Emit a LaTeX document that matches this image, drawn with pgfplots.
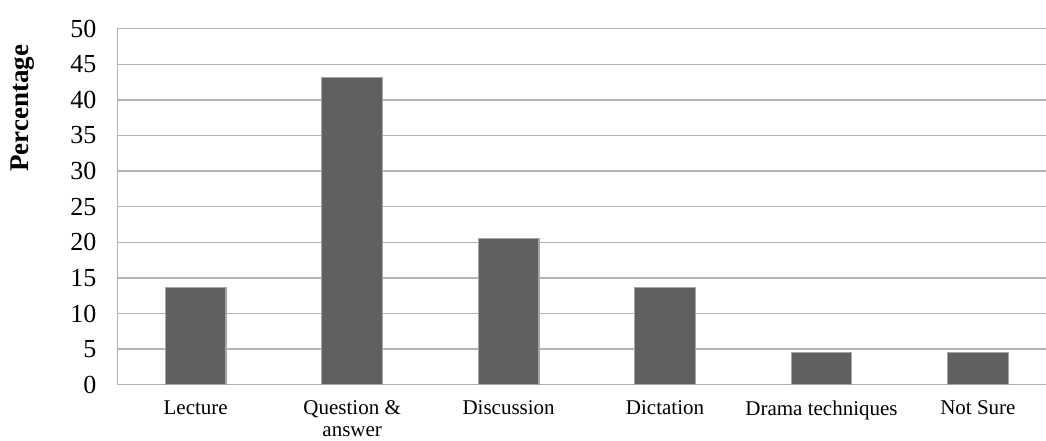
\documentclass[border=0pt]{standalone}
\usepackage{pgfplots}
\pgfplotsset{compat=1.18}
\usepackage{fontspec}
\setmainfont{Liberation Serif}
\definecolor{barfill}{HTML}{606060}
\definecolor{baredge}{HTML}{A6A6A6}
\definecolor{gridc}{HTML}{B3B3B3}
\begin{document}
\begin{tikzpicture}
\begin{axis}[
  scale only axis,
  width=464.25pt, height=178pt,
  xmin=-0.5, xmax=5.435,
  ymin=0, ymax=50,
  ytick={0,5,...,50},
  xtick=data,
  xticklabels={Lecture,{Question \&\\answer},Discussion,Dictation,Drama techniques,Not Sure},
  axis x line*=bottom,
  axis y line*=left,
  axis line style={gridc, line width=0.75pt},
  ymajorgrids,
  grid style={gridc, line width=0.75pt},
  major tick length=0pt,
  tick label style={/pgf/number format/assume math mode=true},
  yticklabel style={font=\fontsize{13}{13.5}\selectfont, xshift=-7pt},
  xticklabel style={font=\fontsize{10.5}{10.8}\selectfont, align=center, yshift=-4.5pt},
  ylabel={\textbf{Percentage}},
  ylabel style={font=\fontsize{13.5}{14}\selectfont, at={(axis description cs:-0.1018,0.777)}, anchor=center, rotate=0},
  clip=false,
]
\addplot[ybar, bar width=30.35pt, fill=barfill, draw=baredge, line width=0.6pt] coordinates {
  (0,13.6) (1,43.2) (2,20.5) (3,13.6) (4,4.5) (5,4.5)
};
\end{axis}
\path (current axis.south west) ++(-58.75pt,-28.15pt) coordinate (a);
\path (current axis.north east) ++(0pt,14.35pt) coordinate (b);
\pgfresetboundingbox
\path[use as bounding box] (a) rectangle (b);
\end{tikzpicture}
\end{document}
